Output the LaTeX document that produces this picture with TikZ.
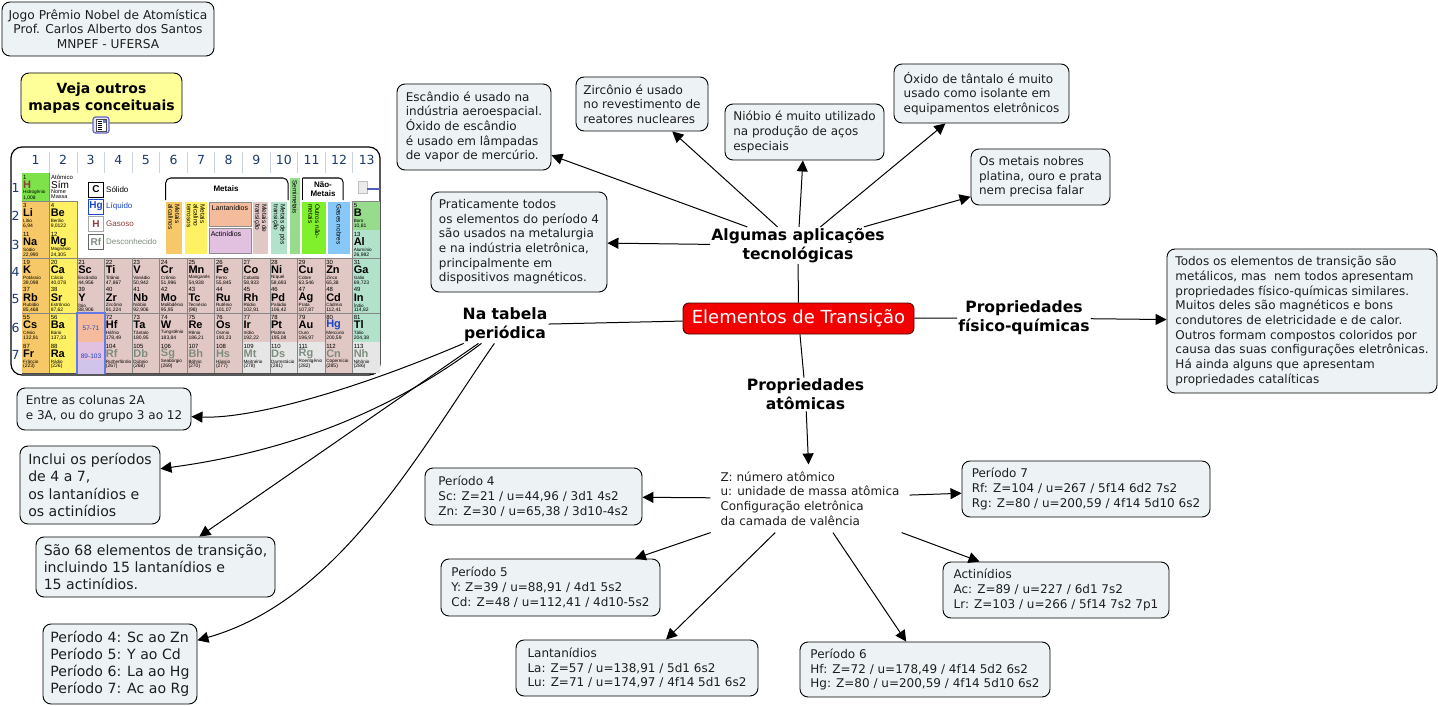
\documentclass[tikz,border=0pt]{standalone}
\usepackage{fontspec}
\setmainfont{DejaVu Sans}
\newfontfamily\tabfont{Liberation Sans}
\usetikzlibrary{arrows.meta}
\definecolor{boxfill}{HTML}{EDF3F5}
\definecolor{txt}{HTML}{1E1E1E}
\definecolor{yel}{HTML}{FFFF99}
\definecolor{navy}{HTML}{1C3A6E}
\definecolor{sep}{HTML}{C8D2E2}
\definecolor{cgrid}{HTML}{868686}
\definecolor{calk}{HTML}{F6C867}
\definecolor{cear}{HTML}{FFF064}
\definecolor{ctra}{HTML}{E2C8C4}
\definecolor{cpost}{HTML}{B2E2CC}
\definecolor{cgre}{HTML}{96DC8C}
\definecolor{chyd}{HTML}{7EE24A}
\definecolor{cunk}{HTML}{E6E6E6}
\definecolor{clan}{HTML}{F4BC9C}
\definecolor{cact}{HTML}{E2C0E0}
\definecolor{cnon}{HTML}{80F02C}
\definecolor{cnob}{HTML}{88C8F8}
\definecolor{cblu}{HTML}{1C46C8}
\definecolor{cbrn}{HTML}{8C3C3C}
\definecolor{cgry}{HTML}{7E8E7E}
\definecolor{cfr}{HTML}{6478E6}
\tikzset{
  bx/.style={draw=black,fill=boxfill,rounded corners=8pt,line width=.9pt,text=txt,align=left,inner sep=1pt,font=\fontsize{12}{14.67}\selectfont},
  bxbig/.style={bx,font=\fontsize{14.1}{17.2}\selectfont},
  lab/.style={align=center,inner sep=1pt,font=\fontsize{15.6}{19.3}\selectfont\bfseries,text=black},
  link/.style={line width=1pt,draw=black},
  arr/.style={link,-{Triangle[length=11pt,width=11pt]}},
  hdr/.style={font=\fontsize{12.5}{13}\selectfont,text=navy,inner sep=0},
  leg/.style={font=\tabfont\fontsize{8}{9}\selectfont,inner sep=0,anchor=west},
  legb/.style={minimum width=15pt,minimum height=15pt,inner sep=0,line width=1pt,fill=white,font=\tabfont\bfseries\fontsize{10}{10}\selectfont},
  vert/.style={rotate=-90,inner sep=0,anchor=west,align=left,font=\tabfont\fontsize{6.5}{6.8}\selectfont},
  cat/.style={inner sep=0,font=\tabfont\fontsize{7}{8}\selectfont},
}
\newcommand{\el}[8]{%
  \pgfmathsetmacro{\X}{22+(#1-1)*27.55}
  \pgfmathsetmacro{\Y}{{173,201,230,258,285.5,313,342,373}[#2-1]}
  \pgfmathsetmacro{\Yb}{{173,201,230,258,285.5,313,342,373}[#2]}
  \fill[#7] (\X,\Y) rectangle (\X+27.55,\Yb);
  \node[anchor=west,inner sep=0,font=\tabfont\fontsize{6}{6}\selectfont] (num#3) at (\X+1,\Y+4) {#3};
  \node[anchor=west,inner sep=0,text=#8,font=\tabfont\bfseries\fontsize{11}{11}\selectfont] (sym#3) at (\X+1,\Y+12) {#4};
  \node[anchor=west,inner sep=0,font=\tabfont\fontsize{4.6}{5}\selectfont] (nam#3) at (\X+1,\Y+19.7) {#5};
  \node[anchor=west,inner sep=0,font=\tabfont\fontsize{5}{5}\selectfont] (mas#3) at (\X+1,\Y+24.7) {#6};
}
\begin{document}
\begin{tikzpicture}[x=1pt,y=-1pt]
\useasboundingbox (0,0) rectangle (1438,706);
% periodic table panel
\draw[fill=white,rounded corners=11pt,line width=1.2pt] (11,147) rectangle (380,375);
\foreach \n [count=\i from 0] in {1,...,13}{
  \node[hdr] (hd\n) at (35.5+\i*27.6,160) {\n};
}
\foreach \i in {1,...,12}{
  \draw[sep,line width=.9pt] (22+\i*27.55,152) -- (22+\i*27.55,173);
}
\foreach \n/\yy in {1/188,2/216,3/245,4/272,5/299,6/328,7/355}{
  \node[hdr] (rw\n) at (15.5,\yy) {\n};
}
\el{1}{1}{1}{H}{Hidrogênio}{1,008}{chyd}{cbrn}
\el{1}{2}{3}{Li}{Lítio}{6,94}{calk}{black}
\el{1}{3}{11}{Na}{Sódio}{22,990}{calk}{black}
\el{1}{4}{19}{K}{Potássio}{39,098}{calk}{black}
\el{1}{5}{37}{Rb}{Rubídio}{85,468}{calk}{black}
\el{1}{6}{55}{Cs}{Césio}{132,91}{calk}{black}
\el{1}{7}{87}{Fr}{Frâncio}{(223)}{calk}{black}
\el{2}{2}{4}{Be}{Berílio}{9,0122}{cear}{black}
\el{2}{3}{12}{Mg}{Magnésio}{24,305}{cear}{black}
\el{2}{4}{20}{Ca}{Cálcio}{40,078}{cear}{black}
\el{2}{5}{38}{Sr}{Estrôncio}{87,62}{cear}{black}
\el{2}{6}{56}{Ba}{Bário}{137,33}{cear}{black}
\el{2}{7}{88}{Ra}{Rádio}{(226)}{cear}{black}
\el{3}{4}{21}{Sc}{Escândio}{44,956}{ctra}{black}
\el{3}{5}{39}{Y}{Ítrio}{88,906}{ctra}{black}
\el{4}{4}{22}{Ti}{Titânio}{47,867}{ctra}{black}
\el{4}{5}{40}{Zr}{Zircônio}{91,224}{ctra}{black}
\el{4}{6}{72}{Hf}{Háfnio}{178,49}{ctra}{black}
\el{4}{7}{104}{Rf}{Rutherfórdio}{(267)}{ctra}{cgry}
\el{5}{4}{23}{V}{Vanádio}{50,942}{ctra}{black}
\el{5}{5}{41}{Nb}{Nióbio}{92,906}{ctra}{black}
\el{5}{6}{73}{Ta}{Tântalo}{180,95}{ctra}{black}
\el{5}{7}{105}{Db}{Dúbnio}{(268)}{ctra}{cgry}
\el{6}{4}{24}{Cr}{Crômio}{51,996}{ctra}{black}
\el{6}{5}{42}{Mo}{Molibdênio}{95,95}{ctra}{black}
\el{6}{6}{74}{W}{Tungstênio}{183,84}{ctra}{black}
\el{6}{7}{106}{Sg}{Seabórgio}{(269)}{ctra}{cgry}
\el{7}{4}{25}{Mn}{Manganês}{54,938}{ctra}{black}
\el{7}{5}{43}{Tc}{Tecnécio}{(98)}{ctra}{black}
\el{7}{6}{75}{Re}{Rênio}{186,21}{ctra}{black}
\el{7}{7}{107}{Bh}{Bóhrio}{(270)}{ctra}{cgry}
\el{8}{4}{26}{Fe}{Ferro}{55,845}{ctra}{black}
\el{8}{5}{44}{Ru}{Rutênio}{101,07}{ctra}{black}
\el{8}{6}{76}{Os}{Ósmio}{190,23}{ctra}{black}
\el{8}{7}{108}{Hs}{Hássio}{(277)}{ctra}{cgry}
\el{9}{4}{27}{Co}{Cobalto}{58,933}{ctra}{black}
\el{9}{5}{45}{Rh}{Ródio}{102,91}{ctra}{black}
\el{9}{6}{77}{Ir}{Irídio}{192,22}{ctra}{black}
\el{9}{7}{109}{Mt}{Meitnério}{(278)}{cunk}{cgry}
\el{10}{4}{28}{Ni}{Níquel}{58,693}{ctra}{black}
\el{10}{5}{46}{Pd}{Paládio}{106,42}{ctra}{black}
\el{10}{6}{78}{Pt}{Platina}{195,08}{ctra}{black}
\el{10}{7}{110}{Ds}{Darmstácio}{(281)}{cunk}{cgry}
\el{11}{4}{29}{Cu}{Cobre}{63,546}{ctra}{black}
\el{11}{5}{47}{Ag}{Prata}{107,87}{ctra}{black}
\el{11}{6}{79}{Au}{Ouro}{196,97}{ctra}{black}
\el{11}{7}{111}{Rg}{Roentgênio}{(282)}{cunk}{cgry}
\el{12}{4}{30}{Zn}{Zinco}{65,38}{ctra}{black}
\el{12}{5}{48}{Cd}{Cádmio}{112,41}{ctra}{black}
\el{12}{6}{80}{Hg}{Mercúrio}{200,59}{ctra}{cblu}
\el{12}{7}{112}{Cn}{Copernício}{(285)}{ctra}{cgry}
\el{13}{2}{5}{B}{Boro}{10,81}{cgre}{black}
\el{13}{3}{13}{Al}{Alumínio}{26,982}{cpost}{black}
\el{13}{4}{31}{Ga}{Gálio}{69,723}{cpost}{black}
\el{13}{5}{49}{In}{Índio}{114,82}{cpost}{black}
\el{13}{6}{81}{Tl}{Tálio}{204,38}{cpost}{black}
\el{13}{7}{113}{Nh}{Nihônio}{(286)}{cunk}{cgry}
% grid lines of the table
\foreach \i in {1,...,12}{
  \draw[cgrid,line width=.8pt] (22+\i*27.55,258) -- (22+\i*27.55,373);
}
\draw[cgrid,line width=.8pt] (22,201) -- (77.1,201) -- (77.1,258);
\draw[cgrid,line width=.8pt] (49.55,173) -- (49.55,258);
\draw[cgrid,line width=.8pt] (352.6,201) -- (380,201) (352.6,201) -- (352.6,258);
\draw[cgrid,line width=.8pt] (22,258) -- (380,258) (22,313) -- (380,313);
\draw[black!70,line width=1pt] (22,373) -- (376,373);
% lanthanide / actinide column
\fill[clan] (77.1,313) rectangle (104.6,342);
\fill[cact] (77.1,342) rectangle (104.6,360);
\fill[cact!70!cfr!70!white] (77.1,360) rectangle (104.6,374);
\draw[cfr,line width=2pt] (77.1,374) -- (77.1,313) -- (104.6,313) -- (104.6,374);
\node[inner sep=0,text=cblu,font=\tabfont\fontsize{6.5}{7}\selectfont] (lanr) at (91,328) {57-71};
\node[inner sep=0,text=cblu,font=\tabfont\fontsize{6.5}{7}\selectfont] (actr) at (91,356) {89-103};
% sample key
\node[inner sep=0,font=\tabfont\fontsize{6}{6}\selectfont,anchor=west] (kn) at (51,177) {Atômico};
\node[inner sep=0,font=\tabfont\fontsize{10}{10}\selectfont,anchor=west] (ks) at (51,185) {Sím};
\node[inner sep=0,font=\tabfont\fontsize{5.5}{5}\selectfont,anchor=west] (kc) at (51,192) {Nome};
\node[inner sep=0,font=\tabfont\fontsize{5.5}{5}\selectfont,anchor=west] (km) at (51,197) {Massa};
% legend
\node[legb,draw=black,text=black] (lc) at (96,189.5) {C};
\node[legb,draw=cblu,text=cblu] (lh) at (96,206.5) {Hg};
\node[legb,draw=black!35,text=cbrn] (lg) at (96,224) {H};
\node[legb,draw=black!60,text=cgry] (lr) at (96,241.5) {Rf};
\node[leg] (tc) at (106,189.5) {Sólido};
\node[leg,text=cblu] (th) at (106,206.5) {Líquido};
\node[leg,text=cbrn] (tg) at (106,224) {Gasoso};
\node[leg,text=cgry] (tr) at (106,241.5) {Desconhecido};
% category bars
\draw[line width=1pt,rounded corners=5pt] (165.7,200) -- (165.7,178) -- (288,178) -- (288,200);
\node[inner sep=0,font=\tabfont\bfseries\fontsize{8}{9}\selectfont] (gm) at (226,189) {Metais};
\draw[line width=1pt,rounded corners=4pt] (302.5,178) -- (343,178) -- (343,200);
\draw[line width=1pt] (302.5,178) -- (302.5,200);
\node[inner sep=0,align=center,font=\tabfont\bfseries\fontsize{8}{9}\selectfont] (gn) at (323,189) {Não-\\Metais};
\fill[calk] (165.7,202) rectangle (182,254);
\node[vert] (c1) at (174,204) {Metais\\alcalinos};
\fill[cear] (185,202) rectangle (207,254);
\node[vert] (c2) at (196,204) {Metais\\alcalino\\terrosos};
\draw[draw=black!45,fill=clan] (209,202) rectangle (251,226);
\node[cat] (c3) at (230,208) {Lantanídios};
\draw[draw=black!45,fill=cact] (209,228) rectangle (251,253);
\node[cat] (c4) at (226,234) {Actinídios};
\fill[ctra] (253,202) rectangle (268,254);
\node[vert] (c5) at (260.5,204) {Metais de\\transição};
\fill[cpost] (271,202) rectangle (287,254);
\node[vert] (c6) at (279,204) {Metais de pós\\transição};
\fill[cgre] (290,178) rectangle (300,254);
\node[vert] (c7) at (295,180) {Semimetais};
\fill[cnon] (302,202) rectangle (326,254);
\node[vert] (c8) at (314,204) {Outros não-\\metais};
\fill[cnob] (328,202) rectangle (350,254);
\node[vert] (c9) at (339,204) {Gases nobres};
\draw[black!25,fill=black!8] (358,181) rectangle (367,193);
\fill[cfr!80!black] (367,187.5) rectangle (380,190);
% top-left boxes
\node[bx,align=center,minimum width=212pt,minimum height=54pt,font=\fontsize{12.2}{14.67}\selectfont] (tit) at (108,29) {Jogo Prêmio Nobel de Atomística\\Prof. Carlos Alberto dos Santos\\MNPEF - UFERSA};
\node[bx,fill=yel,align=center,minimum width=161pt,minimum height=50pt,text=black,font=\fontsize{14}{17}\selectfont\bfseries] (vej) at (101.5,98) {Veja outros\\mapas conceituais};
\node[draw=black!40!blue!60!white,fill=blue!10,rounded corners=2.5pt,line width=1.2pt,minimum width=16pt,minimum height=16pt,inner sep=0] (ico) at (101,125) {};
\fill[white,draw=black!70,line width=.4pt] (96,119) rectangle (106,131);
\foreach \yy in {121.5,123.5,125.5,127.5,129.5}{\draw[black,line width=.7pt] (97.5,\yy) -- (101.5,\yy);}
\fill[cfr] (102.5,120) rectangle (105.5,123);
% concept map nodes
\node[bx,minimum width=154pt,minimum height=86pt] (esc) at (474,127) {Escândio é usado na\\indústria aeroespacial.\\Óxido de escândio\\é usado em lâmpadas\\de vapor de mercúrio.};
\node[bx,minimum width=132pt,minimum height=54pt] (zir) at (642,104) {Zircônio é usado\\no revestimento de\\reatores nucleares};
\node[bx,minimum width=159pt,minimum height=56pt] (nio) at (804.5,132) {Nióbio é muito utilizado\\na produção de aços\\especiais};
\node[bx,minimum width=175pt,minimum height=59pt] (oxi) at (981.5,93.5) {Óxido de tântalo é muito\\usado como isolante em\\equipamentos eletrônicos};
\node[bx,minimum width=139pt,minimum height=56pt] (nob) at (1040.5,177) {Os metais nobres\\platina, ouro e prata\\nem precisa falar};
\node[bx,minimum width=176pt,minimum height=100pt] (pra) at (519,242) {Praticamente todos\\os elementos do período 4\\são usados na metalurgia\\e na indústria eletrônica,\\principalmente em\\dispositivos magnéticos.};
\node[bx,minimum width=270pt,minimum height=144pt] (tod) at (1302,321) {Todos os elementos de transição são\\metálicos, mas\ \ nem todos apresentam\\propriedades físico-químicas similares.\\Muitos deles são magnéticos e bons\\condutores de eletricidade e de calor.\\Outros formam compostos coloridos por\\causa das suas configurações eletrônicas.\\Há ainda alguns que apresentam\\propriedades catalíticas};
\node[draw=black!70!red,fill=red!95!black,rounded corners=6pt,line width=.9pt,minimum width=231pt,minimum height=31pt,inner sep=0,text=white,font=\fontsize{18}{20}\selectfont] (ele) at (798.5,318.5) {Elementos de Transição};
\node[lab] (alg) at (798,245.5) {Algumas aplicações\\tecnológicas};
\node[lab] (fis) at (1024,318) {Propriedades\\físico-químicas};
\node[lab] (ato) at (805.5,394.5) {Propriedades\\atômicas};
\node[lab] (tab) at (505,325) {Na tabela\\periódica};
\node[align=left,inner xsep=10pt,inner ysep=7pt,text=txt,font=\fontsize{12}{14.67}\selectfont] (zed) at (810,498.5) {Z: número atômico\\u: unidade de massa atômica\\Configuração eletrônica\\da camada de valência};
\node[bx,minimum width=217pt,minimum height=57pt] (p4) at (533.5,496.5) {Período 4\\Sc: Z=21 / u=44,96 / 3d1 4s2\\Zn: Z=30 / u=65,38 / 3d10-4s2};
\node[bx,minimum width=248pt,minimum height=56pt] (p7) at (1086,489) {Período 7\\Rf: Z=104 / u=267 / 5f14 6d2 7s2\\Rg: Z=80 / u=200,59 / 4f14 5d10 6s2};
\node[bx,minimum width=219pt,minimum height=57pt] (p5) at (550.5,587.5) {Período 5\\Y: Z=39 / u=88,91 / 4d1 5s2\\Cd: Z=48 / u=112,41 / 4d10-5s2};
\node[bx,minimum width=226pt,minimum height=56pt] (act) at (1056,590) {Actinídios\\Ac: Z=89 / u=227 / 6d1 7s2\\Lr: Z=103 / u=266 / 5f14 7s2 7p1};
\node[bx,minimum width=242pt,minimum height=56pt] (lan) at (637,668) {Lantanídios\\La: Z=57 / u=138,91 / 5d1 6s2\\Lu: Z=71 / u=174,97 / 4f14 5d1 6s2};
\node[bx,minimum width=250pt,minimum height=55pt] (p6) at (925,669.5) {Período 6\\Hf: Z=72 / u=178,49 / 4f14 5d2 6s2\\Hg: Z=80 / u=200,59 / 4f14 5d10 6s2};
\node[bx,minimum width=174pt,minimum height=42pt] (ent) at (104,409) {Entre as colunas 2A\\e 3A, ou do grupo 3 ao 12};
\node[bxbig,minimum width=140pt,minimum height=78pt] (inc) at (90,485) {Inclui os períodos\\de 4 a 7,\\os lantanídios e\\os actinídios};
\node[bxbig,minimum width=239pt,minimum height=60pt] (sao) at (155.5,567) {São 68 elementos de transição,\\incluindo 15 lantanídios e\\15 actinídios.};
\node[bxbig,minimum width=154pt,minimum height=80pt] (per) at (120,664) {Período 4: Sc ao Zn\\Período 5: Y ao Cd\\Período 6: La ao Hg\\Período 7: Ac ao Rg};
% connectors
\draw[link] (ele) -- (alg);
\draw[link] (ele) -- (fis);
\draw[link] (ele) -- (ato);
\draw[link] (ele) -- (tab);
\draw[arr] (alg) -- (esc);
\draw[arr] (alg) -- (zir);
\draw[arr] (alg) -- (nio);
\draw[arr] (alg) -- (oxi);
\draw[arr] (alg) -- (nob);
\draw[arr] (alg) -- (pra);
\draw[arr] (fis) -- (tod);
\draw[arr] (ato) -- (zed);
\draw[arr] (zed) -- (p4);
\draw[arr] (zed) -- (p7);
\draw[arr] (zed) -- (p5);
\draw[arr] (zed) -- (act);
\draw[arr] (zed) -- (lan);
\draw[arr] (zed) -- (p6);
\draw[arr] (tab.204) .. controls (350,392) and (250,419) .. (ent.-5);
\draw[arr] (tab.218) .. controls (400,405) and (300,450) .. (inc.13);
\draw[arr] (tab) -- (sao);
\draw[arr] (tab.240) .. controls (420,450) and (340,600) .. (per.17);
\end{tikzpicture}
\end{document}
